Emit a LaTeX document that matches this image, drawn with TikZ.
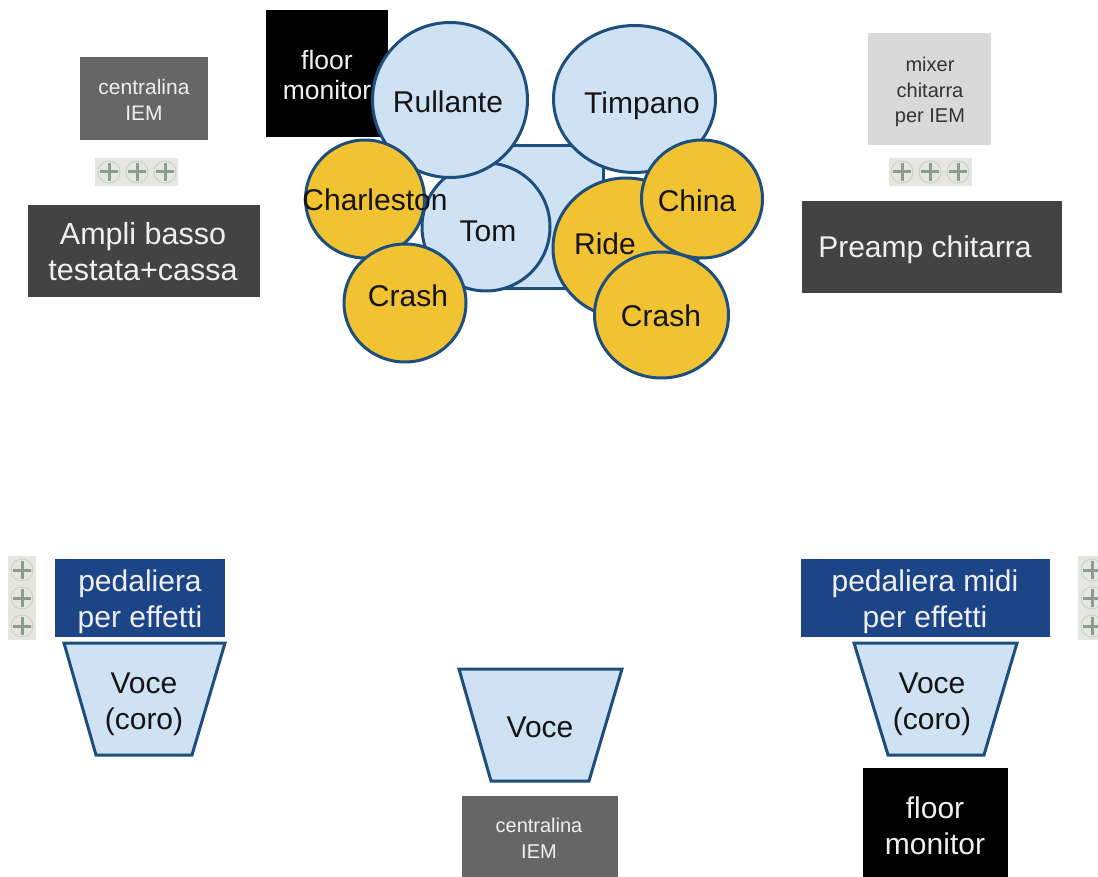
\documentclass[tikz,border=0pt]{standalone}
\usepackage{fontspec}
\setmainfont{Liberation Sans}
\usetikzlibrary{shapes.geometric}
\definecolor{drumblue}{HTML}{CFE2F3}
\definecolor{cymbal}{HTML}{F1C232}
\definecolor{edgeblue}{HTML}{1C4E7E}
\definecolor{navybox}{HTML}{1C4587}
\definecolor{darkbox}{HTML}{434343}
\definecolor{midbox}{HTML}{666666}
\definecolor{lightbox}{HTML}{D9D9D9}
\definecolor{softwhite}{HTML}{EFEFEF}
\definecolor{iconbg}{HTML}{E6E6E0}
\definecolor{iconring}{HTML}{CFD0C8}
\definecolor{iconcross}{HTML}{8A9A94}
\tikzset{
  x=1pt,y=-1pt,
  boxnode/.style={inner sep=0pt,outer sep=0pt,anchor=north west},
  drum/.style={ellipse,draw=edgeblue,fill=drumblue,line width=3pt,inner sep=0pt,outer sep=0pt},
  cym/.style={ellipse,draw=edgeblue,fill=cymbal,line width=3pt,inner sep=0pt,outer sep=0pt},
  lab/.style={inner sep=0pt,outer sep=0pt,align=center,font=\fontsize{30}{36}\selectfont,text=black!92},
  whitelab/.style={lab,text=softwhite},
  smalllab/.style={inner sep=0pt,outer sep=0pt,align=center,font=\fontsize{21}{26}\selectfont},
  trap/.style={draw=edgeblue,fill=drumblue,line width=3pt,line join=miter},
  stripbg/.style={fill=iconbg,draw=none},
}
\newcommand{\screwicon}[2]{%
  \draw[iconring,line width=1pt] (#1,#2) circle[radius=11];
  \draw[iconcross,line width=3pt] (#1-9,#2) -- (#1+9,#2);
  \draw[iconcross,line width=3pt] (#1,#2-9) -- (#1,#2+9);
}
\begin{document}
\begin{tikzpicture}
\useasboundingbox (0,0) rectangle (1098,877);
\fill[white] (0,0) rectangle (1098,877);

% plain boxes
\node[boxnode,fill=midbox,minimum width=128pt,minimum height=83pt] (iemA) at (80,57) {};
\node[smalllab,text=softwhite] (iemAt) at (144,100) {centralina\\IEM};
\node[boxnode,fill=darkbox,minimum width=232pt,minimum height=92pt] (bass) at (28,205) {};
\node[whitelab,font=\fontsize{30.5}{36}\selectfont] (basst) at (143,252) {Ampli basso\\testata+cassa};
\node[boxnode,fill=lightbox,minimum width=123pt,minimum height=112pt] (mix) at (868,33) {};
\node[smalllab,text=black!80,font=\fontsize{20}{25.5}\selectfont] (mixt) at (930,92) {mixer\\chitarra\\per IEM};
\node[boxnode,fill=darkbox,minimum width=260pt,minimum height=92pt] (pre) at (802,201) {};
\node[whitelab] (pret) at (925,250) {Preamp chitarra};
\node[boxnode,fill=black,minimum width=122pt,minimum height=127pt] (floorA) at (266,10) {};
\node[smalllab,text=softwhite,font=\fontsize{26.5}{30}\selectfont] (floorAt) at (327,75) {floor\\monitor};

% icon strips
\fill[stripbg] (95,158) rectangle (178,186);
\screwicon{109}{172}\screwicon{137}{172}\screwicon{165}{172}
\fill[stripbg] (889,158) rectangle (972,186);
\screwicon{902}{172}\screwicon{930}{172}\screwicon{958}{172}
\fill[stripbg] (8,556) rectangle (36,640);
\screwicon{22}{570}\screwicon{22}{598}\screwicon{22}{626}
\fill[stripbg] (1078,556) rectangle (1106,640);
\screwicon{1092}{570}\screwicon{1092}{598}\screwicon{1092}{626}

% drum kit
\node[boxnode,draw=edgeblue,fill=drumblue,line width=3pt,minimum width=113pt,minimum height=143pt] (kick) at (490,146) {};
\node[drum,minimum width=162pt,minimum height=147pt] (timp) at (634.5,99) {};
\node[drum,minimum width=128pt,minimum height=128pt] (tom) at (486,227) {};
\node[drum,minimum width=155pt,minimum height=155pt] (rull) at (450,100) {};
\node[cym,minimum width=119pt,minimum height=118pt] (charl) at (365,199) {};
\node[cym,minimum width=122pt,minimum height=118pt] (crashA) at (405,303) {};
\node[cym,minimum width=146pt,minimum height=140pt] (ride) at (626,248) {};
\node[cym,minimum width=121pt,minimum height=118pt] (china) at (702,199) {};
\node[cym,minimum width=134pt,minimum height=126pt] (crashB) at (661.5,315) {};

\node[lab] (rullt) at (448,102) {Rullante};
\node[lab] (timpt) at (642,106) {Timpano};
\node[lab] (charlt) at (375,200) {Charleston};
\node[lab] (tomt) at (488,231) {Tom};
\node[lab] (crashAt) at (408,296) {Crash};
\node[lab] (ridet) at (605,244) {Ride};
\node[lab] (chinat) at (697,201) {China};
\node[lab] (crashBt) at (661,316) {Crash};

% pedalboards
\node[boxnode,fill=navybox,minimum width=170pt,minimum height=78pt] (pedA) at (55,559) {};
\node[whitelab] (pedAt) at (140,602) {pedaliera\\per effetti};
\node[boxnode,fill=navybox,minimum width=249pt,minimum height=78pt] (pedB) at (801,559) {};
\node[whitelab] (pedBt) at (925,602) {pedaliera midi\\per effetti};

% vocal trapezoids
\draw[trap] (64,643) -- (225,643) -- (192,755) -- (96,755) -- cycle;
\node[lab] (voxAt) at (144,704) {Voce\\(coro)};
\draw[trap] (459,669) -- (622,669) -- (589,781) -- (491,781) -- cycle;
\node[lab] (voxCt) at (540,727) {Voce};
\draw[trap] (854,643) -- (1017,643) -- (984,755) -- (888,755) -- cycle;
\node[lab] (voxBt) at (932,704) {Voce\\(coro)};

% bottom boxes
\node[boxnode,fill=midbox,minimum width=156pt,minimum height=81pt] (iemB) at (462,796) {};
\node[smalllab,text=softwhite,font=\fontsize{20}{26}\selectfont] (iemBt) at (539,838) {centralina\\IEM};
\node[boxnode,fill=black,minimum width=145pt,minimum height=109pt] (floorB) at (863,768) {};
\node[whitelab] (floorBt) at (935,826) {floor\\monitor};
\end{tikzpicture}
\end{document}
